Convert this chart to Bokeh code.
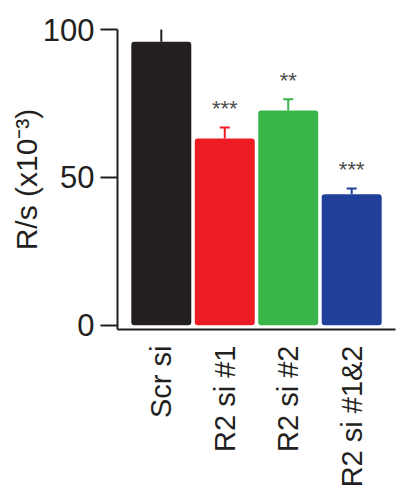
import math
from bokeh.plotting import figure
from bokeh.models import ColumnDataSource, FactorRange, Range1d, FixedTicker, Whisker, TeeHead, Title
from bokeh.core.properties import value
from bokeh.embed import file_html
from bokeh.resources import INLINE

categories = ["Scr si", "R2 si #1", "R2 si #2", "R2 si #1&2"]
means = [95.9, 63.2, 72.6, 44.3]
errors = [5.1, 3.7, 3.8, 2.0]
stars = ["", "***", "**", "***"]
colors = ["#231f20", "#ed1c24", "#39b54a", "#21409a"]
y_ticks = [0, 50, 100]
y_title = "R/s (x10⁻³)"

upper = [m + e for m, e in zip(means, errors)]
src = ColumnDataSource(dict(cat=categories, mean=means, upper=upper, color=colors, stars=stars))

p = figure(width=397, height=496, x_range=FactorRange(*categories, range_padding=0.095),
           y_range=Range1d(-1.4, 100), output_backend="svg", toolbar_location=None,
           min_border_left=117, min_border_right=2, min_border_top=29, min_border_bottom=167)
p.outline_line_color = None
p.grid.visible = False
p.background_fill_color = "white"

p.vbar(x="cat", top="mean", bottom=0, width=0.945, fill_color="color", line_color=None,
       border_radius=3, source=src)

wh = Whisker(base="cat", upper="upper", lower="mean", source=src, line_color="color", line_width=2,
             upper_head=TeeHead(size=10, line_color="color", line_width=2), lower_head=None,
             level="underlay")
p.add_layout(wh)

p.text(x="cat", y="upper", text="stars", source=src, text_align="center", text_baseline="bottom",
       y_offset=-6, text_font_size="22px", text_color="#4d4d4d", text_font=value("Liberation Sans"))

ttl = Title(text=y_title, align="center", offset=58, text_font="Liberation Sans",
            text_font_size="30px", text_font_style="normal", text_color="#231f20", standoff=-6)
p.add_layout(ttl, "left")

ya = p.yaxis[0]
ya.ticker = FixedTicker(ticks=y_ticks)
ya.axis_line_width = 2
ya.axis_line_color = "#231f20"
ya.major_tick_line_width = 2
ya.major_tick_line_color = "#231f20"
ya.major_tick_out = 17
ya.major_tick_in = 0
ya.minor_tick_line_color = None
ya.major_label_text_font = "Liberation Sans"
ya.major_label_text_font_size = "31px"
ya.major_label_text_color = "#231f20"
ya.major_label_standoff = 6

xa = p.xaxis[0]
xa.axis_line_width = 2
xa.axis_line_color = "#231f20"
xa.major_tick_line_color = None
xa.minor_tick_line_color = None
xa.major_label_orientation = math.pi / 2
xa.major_label_text_font = "Liberation Sans"
xa.major_label_text_font_size = "29px"
xa.major_label_text_color = "#231f20"
xa.major_label_standoff = 10

open("out.html", "w").write(file_html(p, INLINE))
